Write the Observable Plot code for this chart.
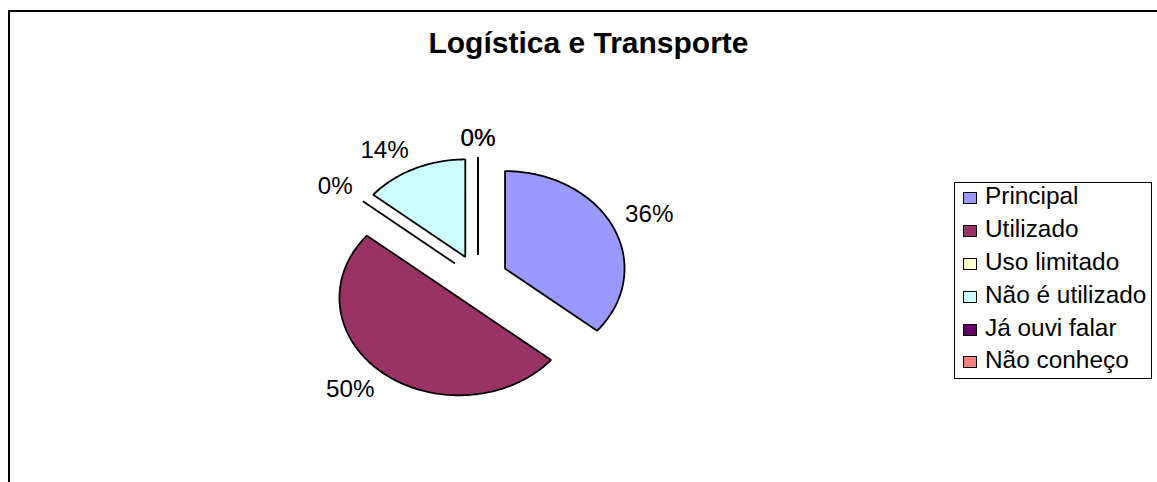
<!DOCTYPE html>
<html><head><meta charset="utf-8">
<script src="https://cdn.jsdelivr.net/npm/d3@7"></script>
<script src="https://cdn.jsdelivr.net/npm/@observablehq/plot@0.6"></script>
<style>
html,body{margin:0;padding:0;background:#fff;}
body{width:1157px;height:482px;overflow:hidden;position:relative;font-family:"Liberation Sans",Arial,sans-serif;color:#000;}
#frame{position:absolute;left:8px;top:10px;width:1200px;height:500px;border-top:2px solid #000;border-left:2px solid #000;}
#chart{position:absolute;left:0;top:0;}
#title{position:absolute;left:0;width:1177px;top:28px;text-align:center;font-weight:bold;font-size:30px;line-height:30px;}
#legend{position:absolute;left:954px;top:182px;width:196px;height:195px;border:1px solid #000;}
.row{position:absolute;left:963px;height:32.8px;line-height:32.8px;display:flex;align-items:baseline;font-size:24.4px;white-space:nowrap;}
.sw{width:14px;height:12px;border:1px solid #000;box-sizing:border-box;margin-right:8px;}
</style>
</head><body>
<div id="frame"></div>
<div id="chart"></div>
<div id="title"></div>
<div id="legend"></div>
<script>
const title = "Logística e Transporte";
const categories = ["Principal", "Utilizado", "Uso limitado", "Não é utilizado", "Já ouvi falar", "Não conheço"];
const values = [36, 50, 0, 14, 0, 0];
const labels = ["36%", "50%", "0%", "14%", "0%", "0%"];
const colors = ["#9999FF", "#993366", "#FFFFCC", "#CCFFFF", "#660066", "#FF8080"];

const W = 1157, H = 482;
const CX = 477.5, CY = 278.5, RX = 119.5, RY = 97.5;
const EXPLODE = 0.25, LR = 1.11, FS = 24.2, CAPH = 17;

const total = d3.sum(values);
let acc = 0;
const slices = categories.map((c, i) => {
  const a0 = acc / total * 2 * Math.PI;
  acc += values[i];
  const a1 = acc / total * 2 * Math.PI;
  return {c, a0, a1, m: (a0 + a1) / 2, label: labels[i]};
});

const pts = [];
for (const s of slices) {
  const ox = EXPLODE * Math.sin(s.m), oy = EXPLODE * Math.cos(s.m);
  pts.push({c: s.c, x: ox, y: oy});
  const n = Math.max(1, Math.ceil((s.a1 - s.a0) / (Math.PI / 180)));
  for (let k = 0; k <= n; k++) {
    const a = s.a0 + (s.a1 - s.a0) * k / n;
    pts.push({c: s.c, x: ox + Math.sin(a), y: oy + Math.cos(a)});
  }
}

const charW = ch => ch === "%" ? 0.889 : 0.556;
const labelData = slices.map(s => {
  const sn = Math.sin(s.m), cs = Math.cos(s.m);
  const w = [...s.label].reduce((t, ch) => t + charW(ch), 0) * FS;
  const sx = Math.abs(sn) < 0.1 ? 0 : Math.sign(sn);
  const sy = Math.abs(cs) < 0.1 ? 0 : Math.sign(cs);
  return {
    label: s.label,
    x: (EXPLODE + LR) * sn + sx * (w / 2) / RX,
    y: (EXPLODE + LR) * cs + sy * (CAPH / 2) / RY
  };
});

const chart = Plot.plot({
  width: W, height: H, margin: 0,
  x: {domain: [-CX / RX, (W - CX) / RX], axis: null},
  y: {domain: [-(H - CY) / RY, CY / RY], axis: null},
  color: {domain: categories, range: colors},
  style: {background: "transparent", fontFamily: "'Liberation Sans', Arial, sans-serif", overflow: "visible"},
  marks: [
    Plot.line(pts, {x: "x", y: "y", z: "c", fill: "c", stroke: "#000", strokeWidth: 1.8, strokeLinejoin: "miter", curve: "linear-closed"}),
    Plot.text(labelData, {x: "x", y: "y", text: "label", fontSize: FS, fill: "#000", textAnchor: "middle", lineAnchor: "middle"})
  ]
});
document.getElementById("chart").appendChild(chart);
document.getElementById("title").textContent = title;

categories.forEach((c, i) => {
  const row = document.createElement("div");
  row.className = "row";
  row.style.top = (180.3 + i * 32.8) + "px";
  const sw = document.createElement("span");
  sw.className = "sw";
  sw.style.background = colors[i];
  const t = document.createElement("span");
  t.textContent = c;
  row.appendChild(sw);
  row.appendChild(t);
  document.body.appendChild(row);
});
</script>
</body></html>
